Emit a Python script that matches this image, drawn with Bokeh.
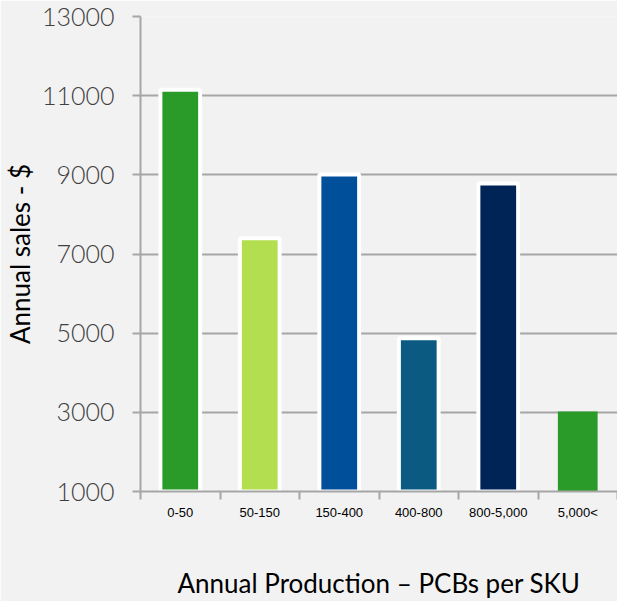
from bokeh.plotting import figure
from bokeh.models import ColumnDataSource, FixedTicker, Range1d
from bokeh.embed import file_html
from bokeh.resources import INLINE

categories = ["0-50", "50-150", "150-400", "400-800", "800-5,000", "5,000<"]
sales = [11150, 7400, 9010, 4870, 8780, 3020]
colors = ["#2a9a28", "#b3de4f", "#004f9a", "#0a5a82", "#002456", "#2a9a28"]
outline_alpha = [1, 1, 1, 1, 1, 0]
y_ticks = [1000, 3000, 5000, 7000, 9000, 11000, 13000]

n = len(categories)
centers = [i + 0.5 for i in range(n)]
bounds = list(range(n + 1))

source = ColumnDataSource(dict(x=centers, top=sales, color=colors, la=outline_alpha))

p = figure(width=617, height=601, output_backend="svg", toolbar_location=None,
           x_range=Range1d(0, n), y_range=Range1d(1000, 13000),
           min_border_left=138, min_border_right=0, min_border_top=16, min_border_bottom=109)

p.background_fill_color = "#f2f2f2"
p.border_fill_color = "#f2f2f2"
p.outline_line_color = None

p.vbar(x="x", top="top", bottom=1000, width=0.5, source=source,
       fill_color="color", line_color="white", line_width=4, line_alpha="la")

# y axis
p.yaxis.ticker = FixedTicker(ticks=y_ticks)
p.yaxis.axis_line_color = "#a6a6a6"
p.yaxis.axis_line_width = 2
p.yaxis.major_tick_line_color = "#a6a6a6"
p.yaxis.major_tick_line_width = 2
p.yaxis.major_tick_out = 8
p.yaxis.major_tick_in = 0
p.yaxis.minor_tick_line_color = None
p.yaxis.major_label_text_font = "Lato Light"
p.yaxis.major_label_text_font_size = "25px"
p.yaxis.major_label_text_color = "#404040"
p.yaxis.major_label_standoff = 18
p.yaxis.axis_label = "Annual sales - $"
p.yaxis.axis_label_text_font = "Lato"
p.yaxis.axis_label_text_font_size = "26px"
p.yaxis.axis_label_text_font_style = "normal"
p.yaxis.axis_label_text_color = "#000000"
p.yaxis.axis_label_standoff = 3

# x axis: labels at centers, tick marks at category boundaries
p.xaxis.ticker = FixedTicker(ticks=centers, minor_ticks=bounds)
p.xaxis.major_label_overrides = {c: lab for c, lab in zip(centers, categories)}
p.xaxis.major_tick_line_color = None
p.xaxis.major_tick_out = 0
p.xaxis.major_tick_in = 0
p.xaxis.minor_tick_line_color = "#a6a6a6"
p.xaxis.minor_tick_line_width = 2
p.xaxis.minor_tick_out = 8
p.xaxis.minor_tick_in = 0
p.xaxis.axis_line_color = "#a6a6a6"
p.xaxis.axis_line_width = 2
p.xaxis.major_label_text_font = "Liberation Sans"
p.xaxis.major_label_text_font_size = "13px"
p.xaxis.major_label_text_color = "#000000"
p.xaxis.major_label_standoff = 5
p.xaxis.axis_label = "Annual Production \u2013 PCBs per SKU"
p.xaxis.axis_label_text_font = "Lato"
p.xaxis.axis_label_text_font_size = "26px"
p.xaxis.axis_label_text_font_style = "normal"
p.xaxis.axis_label_text_color = "#000000"
p.xaxis.axis_label_standoff = 44

p.xgrid.grid_line_color = None
p.ygrid.ticker = FixedTicker(ticks=y_ticks)
p.ygrid.grid_line_color = "#a6a6a6"
p.ygrid.grid_line_width = 2

open("out.html", "w").write(file_html(p, INLINE))
